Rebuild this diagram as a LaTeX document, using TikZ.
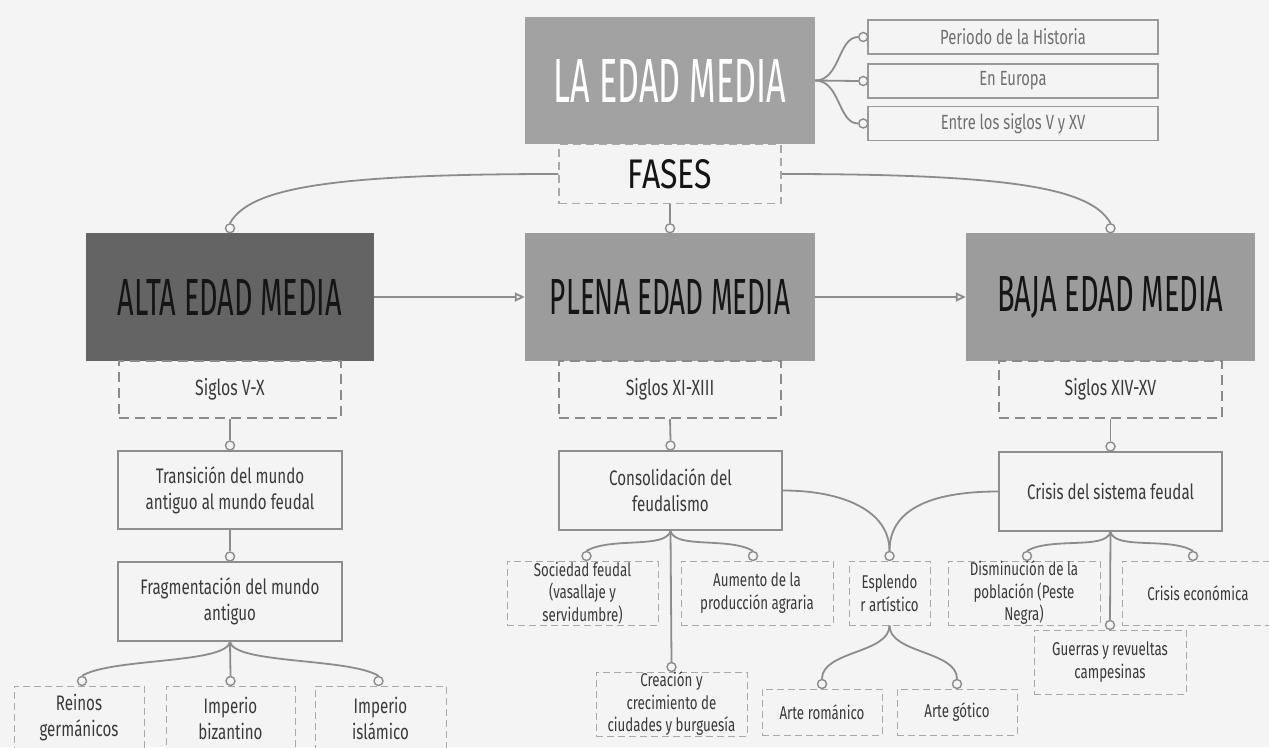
\documentclass[tikz,border=0pt]{standalone}
\usepackage{fontspec}
\setmainfont{Fira Sans}[FakeStretch=0.72]
\usepackage{graphicx}
\usetikzlibrary{arrows.meta,calc}
\definecolor{bg}{HTML}{F4F4F4}
\definecolor{gA}{HTML}{A2A2A2}
\definecolor{gP}{HTML}{9C9C9C}
\definecolor{gD}{HTML}{646464}
\definecolor{lnk}{HTML}{8C8C8C}
\definecolor{bline}{HTML}{8E8E8E}
\definecolor{dline}{HTML}{A8A8A8}
\definecolor{sline}{HTML}{8A8A8A}
\definecolor{tline}{HTML}{9A9A9A}
\definecolor{txt}{HTML}{3A3A3A}
\definecolor{ltxt}{HTML}{707070}
\definecolor{ink}{HTML}{151515}
\begin{document}
\begin{tikzpicture}[x=1pt,y=-1pt,
  conn/.style={draw=lnk,line width=1.8pt},
  dot/.style={circle,draw=lnk,line width=1.4pt,fill=bg,minimum size=9pt,inner sep=0pt},
  sz/.style 2 args={minimum width=#1pt,minimum height=#2pt},
  base/.style={inner sep=0pt,align=center,text=txt},
  sbox/.style={base,draw=bline,line width=2pt,fill=bg,font=\fontsize{21}{26}\selectfont},
  dbox/.style={base,draw=dline,line width=1pt,dash pattern=on 7pt off 4pt,fill=bg,font=\fontsize{18.5}{22.5}\selectfont},
  abox/.style={dbox,font=\fontsize{21}{26}\selectfont},
  sigbox/.style={base,draw=sline,line width=2pt,dash pattern=on 10pt off 6pt,font=\fontsize{22}{26}\selectfont},
  fbox/.style={base,draw=dline,line width=1.5pt,dash pattern=on 8pt off 5pt,fill=bg},
  phase/.style={base,text=ink},
  tbox/.style={base,draw=tline,line width=1.5pt,fill=bg,text=ltxt,font=\fontsize{20.5}{24}\selectfont},
  arr/.style={draw=lnk,line width=1.8pt,-{Triangle[open,length=10pt,width=9pt]}}
]
\useasboundingbox (0,0) rectangle (1269,747);
\fill[bg] (0,0) rectangle (1269,747);
\clip (0,0) rectangle (1269,747);

% ---- top
\node[fbox,sz={222}{59}] (fases) at (670,174) {\color{ink}\resizebox{84pt}{29pt}{FASES}};
\node[base,fill=gA,sz={290}{127}] (lem) at (670,80.5) {\color{white}\resizebox{232pt}{43pt}{LA EDAD MEDIA}};
\node[tbox,sz={290}{34}] (p1) at (1013,37) {Periodo de la Historia};
\node[tbox,sz={290}{34}] (p2) at (1013,81) {En Europa};
\node[tbox,sz={290}{34}] (p3) at (1013,123.5) {Entre los siglos V y XV};
\node[dot] (dp1) at ($(p1.west)+(-4,0)$) {};
\node[dot] (dp2) at ($(p2.west)+(-4,0)$) {};
\node[dot] (dp3) at ($(p3.west)+(-4,0)$) {};
\draw[conn] (lem.east) .. controls +(25,0) and +(-20,0) .. (dp1.west);
\draw[conn] (lem.east) -- (dp2.west);
\draw[conn] (lem.east) .. controls +(25,0) and +(-20,0) .. (dp3.west);

% ---- phases
\node[phase,fill=gD,sz={288}{128}] (alta) at (230,297) {\resizebox{224pt}{36pt}{ALTA EDAD MEDIA}};
\node[phase,fill=gP,sz={290}{128}] (plena) at (670,297) {\resizebox{240pt}{35pt}{PLENA EDAD MEDIA}};
\node[phase,fill=gP,sz={289}{128}] (baja) at (1110.5,297) {\resizebox{226pt}{35pt}{BAJA EDAD MEDIA}};
\node[dot] (dalta) at ($(alta.north)+(0,-4.5)$) {};
\node[dot] (dplena) at ($(plena.north)+(0,-4.5)$) {};
\node[dot] (dbaja) at ($(baja.north)+(0,-4.5)$) {};
\draw[conn] (fases.west) .. controls +(-230,0) and +(20,-35) .. (dalta.north);
\draw[conn] (fases.east) .. controls +(230,0) and +(-20,-35) .. (dbaja.north);
\draw[conn] (fases.south) -- (dplena.north);
\draw[arr] (alta.east) -- (plena.west);
\draw[arr] (plena.east) -- (baja.west);

% ---- centuries
\node[sigbox,sz={222}{57}] (s1) at (230,389.5) {Siglos V-X};
\node[sigbox,sz={222}{57}] (s2) at (670,389.5) {Siglos XI-XIII};
\node[sigbox,sz={223}{57}] (s3) at (1110.5,389.5) {Siglos XIV-XV};

% ---- left column
\node[sbox,sz={224}{78}] (trans) at (230,490) {Transición del mundo\\antiguo al mundo feudal};
\node[sbox,sz={224}{79}] (frag) at (230,601.5) {Fragmentación del mundo\\antiguo};
\node[abox,sz={130}{64}] (rein) at (79,718) {Reinos\\germánicos};
\node[abox,sz={129}{64}] (biz) at (230.5,718) {Imperio\\bizantino};
\node[abox,sz={131}{64}] (isl) at (380.5,718) {Imperio\\islámico};
\node[dot] (dtrans) at ($(trans.north)+(0,-4.5)$) {};
\node[dot] (dfrag) at ($(frag.north)+(0,-4.5)$) {};
\node[dot] (drein) at ($(rein.north)+(3,-4.5)$) {};
\node[dot] (dbiz) at ($(biz.north)+(0,-4.5)$) {};
\node[dot] (disl) at ($(isl.north)+(-2,-4.5)$) {};
\draw[conn] (s1.south) -- (dtrans.north);
\draw[conn] (trans.south) -- (dfrag.north);
\draw[conn] (frag.south) .. controls +(-5,22) and +(30,-18) .. (drein.north);
\draw[conn] (frag.south) -- (dbiz.north);
\draw[conn] (frag.south) .. controls +(5,22) and +(-30,-18) .. (disl.north);

% ---- middle column
\node[sbox,sz={223}{79}] (cons) at (670.5,490.5) {Consolidación del\\feudalismo};
\node[dbox,sz={151}{64}] (soc) at (582.5,593) {Sociedad feudal\\(vasallaje y\\servidumbre)};
\node[dbox,sz={152}{64}] (aum) at (757,593) {Aumento de la\\producción agraria};
\node[dbox,sz={151}{64}] (crea) at (671.5,704) {Creación y\\crecimiento de\\ciudades y burguesía};
\node[dbox,sz={81}{64}] (esp) at (889.5,593) {Esplendo\\r artístico};
\node[dbox,sz={120}{46}] (rom) at (822,712) {Arte románico};
\node[dbox,sz={120}{46}] (got) at (957,712) {Arte gótico};
\node[dot] (dcons) at ($(cons.north)+(0,-4.5)$) {};
\node[dot] (dsoc) at ($(soc.north)+(4,-4.5)$) {};
\node[dot] (daum) at ($(aum.north)+(-4,-4.5)$) {};
\node[dot] (dcrea) at ($(crea.north)+(0,-4.5)$) {};
\node[dot] (desp) at ($(esp.north)+(0,-4.5)$) {};
\node[dot] (drom) at ($(rom.north)+(0,-4.5)$) {};
\node[dot] (dgot) at ($(got.north)+(0,-4.5)$) {};
\draw[conn] (s2.south) -- (dcons.north);
\draw[conn] (cons.south) .. controls +(-5,18) and +(25,-14) .. (dsoc.north);
\draw[conn] (cons.south) .. controls +(5,18) and +(-25,-14) .. (daum.north);
\draw[conn] (cons.south) -- (dcrea.north);
\draw[conn] (esp.south) .. controls +(0,28) and +(0,-28) .. (drom.north);
\draw[conn] (esp.south) .. controls +(0,28) and +(0,-28) .. (dgot.north);

% ---- right column
\node[sbox,sz={223}{79}] (cris) at (1110.5,491.5) {Crisis del sistema feudal};
\node[dbox,sz={152}{64}] (dism) at (1024,593) {Disminución de la\\población (Peste\\Negra)};
\node[dbox,sz={152}{64}] (ceco) at (1198,593) {Crisis económica};
\node[dbox,sz={152}{64}] (guer) at (1110,662) {Guerras y revueltas\\campesinas};
\node[dot] (dcris) at ($(cris.north)+(0,-4.5)$) {};
\node[dot] (ddism) at ($(dism.north)+(3,-4.5)$) {};
\node[dot] (dceco) at ($(ceco.north)+(-5,-4.5)$) {};
\node[dot] (dguer) at ($(guer.north)+(0,-4.5)$) {};
\draw[conn] (s3.south) -- (dcris.north);
\draw[conn] (cris.south) .. controls +(-5,18) and +(25,-14) .. (ddism.north);
\draw[conn] (cris.south) .. controls +(5,18) and +(-25,-14) .. (dceco.north);
\draw[conn] (cris.south) -- (dguer.north);

% ---- links to Esplendor
\draw[conn] (cons.east) .. controls +(60,0) and +(0,-40) .. (desp.north);
\draw[conn] (cris.west) .. controls +(-70,0) and +(0,-40) .. (desp.north);
\end{tikzpicture}
\end{document}
